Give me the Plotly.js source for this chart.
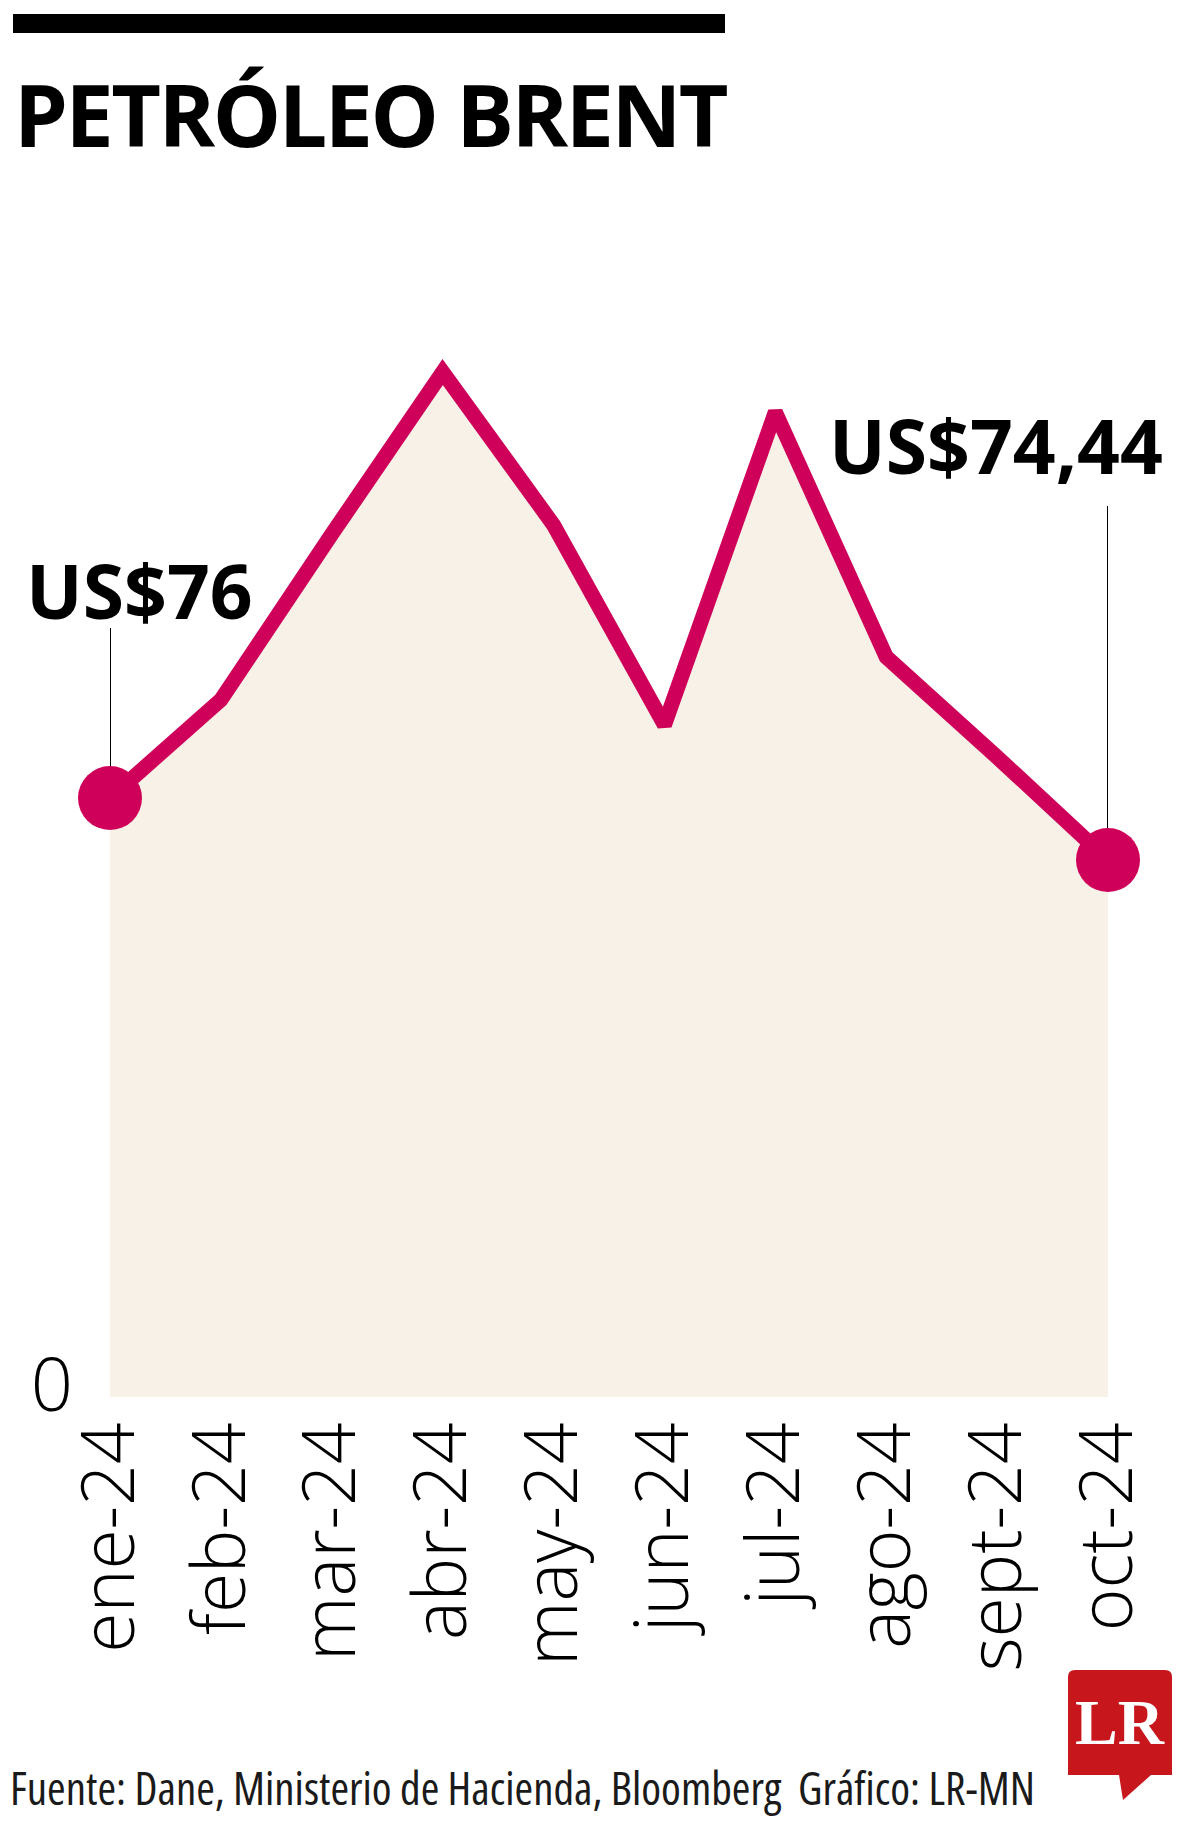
<!DOCTYPE html>
<html>
<head>
<meta charset="utf-8">
<script src="https://cdn.plot.ly/plotly-3.0.1.min.js"></script>
<style>
  html, body { margin: 0; padding: 0; background: #ffffff; }
  #chart { width: 1200px; height: 1828px; }
  #chart .gtitle { letter-spacing: -2.5px; }
  #chart .annotation[data-index="2"] .annotation-text { font-stretch: 75%; }
</style>
</head>
<body>
<div id="chart"></div>
<script>
// ---- DATA ----
const months = ['ene-24', 'feb-24', 'mar-24', 'abr-24', 'may-24', 'jun-24', 'jul-24', 'ago-24', 'sept-24', 'oct-24'];
const brent = [76, 78.47, 82.64, 86.72, 82.87, 77.84, 85.71, 79.55, 77.03, 74.44];
const yTickVals = [60.93];
const yTickText = ['0'];
const firstLabel = 'US$76';
const lastLabel = 'US$74,44';
const titleText = 'PETRÓLEO BRENT';
const sourceText = 'Fuente: Dane, Ministerio de Hacienda, Bloomberg  Gráfico: LR-MN';
const logoText = 'LR';

// ---- LAYOUT GEOMETRY ----
const W = 1200, H = 1828;
const mL = 110, mR = 92, mT = 42, mB = 431;
const plotW = W - mL - mR, plotH = H - mT - mB;
const px = x => (x - mL) / plotW;
const py = y => (H - mB - y) / plotH;

const lineColor = '#cf0059';
const fillColor = '#f8f1e7';
const last = months.length - 1;

const trace = {
  type: 'scatter',
  mode: 'lines+markers',
  x: months,
  y: brent,
  fill: 'tozeroy',
  fillcolor: fillColor,
  opacity: 1,
  line: { color: lineColor, width: 15 },
  marker: {
    color: lineColor,
    opacity: 1,
    size: months.map((m, i) => (i === 0 || i === last) ? 64 : 0),
    line: { width: 0 }
  },
  cliponaxis: false,
  hoverinfo: 'skip'
};

const logoPath = (() => {
  const r = 7;
  const x0 = 1068, x1 = 1172, y0 = 1670, y1 = 1775;
  const P = (x, y) => px(x) + ',' + py(y);
  return 'M' + P(x0 + r, y0) + ' L' + P(x1 - r, y0) + ' Q' + P(x1, y0) + ' ' + P(x1, y0 + r) +
    ' L' + P(x1, y1) + ' L' + P(1151, y1) + ' L' + P(1123, 1800) + ' L' + P(1119, y1) +
    ' L' + P(x0, y1) + ' L' + P(x0, y0 + r) + ' Q' + P(x0, y0) + ' ' + P(x0 + r, y0) + ' Z';
})();

const layout = {
  width: W,
  height: H,
  margin: { l: mL, r: mR, t: mT, b: mB, pad: 0 },
  paper_bgcolor: '#ffffff',
  plot_bgcolor: 'rgba(0,0,0,0)',
  showlegend: false,
  title: {
    text: titleText,
    font: { family: 'Open Sans', size: 86, weight: 700, color: '#000000' },
    xref: 'container', yref: 'container',
    x: 14 / W, xanchor: 'left',
    y: 1 - 117 / H, yanchor: 'middle'
  },
  xaxis: {
    type: 'category',
    range: [0, last],
    showgrid: false, zeroline: false, showline: false,
    ticks: '',
    tickangle: -90,
    tickfont: { family: 'Open Sans', size: 73, weight: 300, color: '#000000' },
    ticklabelstandoff: 10,
    fixedrange: true
  },
  yaxis: {
    range: [60.927, 95.024],
    showgrid: false, zeroline: false, showline: false,
    ticks: '',
    tickvals: yTickVals,
    ticktext: yTickText,
    tickfont: { family: 'Open Sans', size: 74, weight: 300, color: '#000000' },
    ticklabelshift: -12,
    ticklabelstandoff: 36,
    fixedrange: true
  },
  shapes: [
    { type: 'rect', xref: 'paper', yref: 'paper', x0: px(13), x1: px(725), y0: py(33), y1: py(14),
      fillcolor: '#000000', line: { width: 0 } },
    { type: 'line', xref: 'x', yref: 'y', layer: 'below', ysizemode: 'pixel',
      yanchor: brent[0], x0: 0, x1: 0, y0: 0, y1: 170, line: { color: '#000000', width: 2 } },
    { type: 'line', xref: 'x', yref: 'y', layer: 'below', ysizemode: 'pixel',
      yanchor: brent[last], x0: last, x1: last, y0: 0, y1: 354, line: { color: '#000000', width: 2 } },
    { type: 'path', xref: 'paper', yref: 'paper', path: logoPath,
      fillcolor: '#c8161d', line: { width: 0 } }
  ],
  annotations: [
    { xref: 'x', yref: 'y', x: months[0], y: brent[0], text: firstLabel, showarrow: false,
      xanchor: 'left', yanchor: 'middle', xshift: -86, yshift: 208,
      font: { family: 'Open Sans', size: 75, weight: 700, color: '#000000' } },
    { xref: 'x', yref: 'y', x: months[last], y: brent[last], text: lastLabel, showarrow: false,
      xanchor: 'right', yanchor: 'middle', xshift: 57, yshift: 415,
      font: { family: 'Open Sans', size: 75, weight: 700, color: '#000000' } },
    { xref: 'paper', yref: 'paper', x: px(522), y: py(1788), text: sourceText, showarrow: false,
      xanchor: 'center', yanchor: 'middle',
      font: { family: 'Open Sans', size: 45, weight: 400, color: '#1a1a1a' } },
    { xref: 'paper', yref: 'paper', x: px(1120), y: py(1722), text: logoText, showarrow: false,
      xanchor: 'center', yanchor: 'middle',
      font: { family: 'Liberation Serif', size: 64, weight: 700, color: '#ffffff' } }
  ]
};

Plotly.newPlot('chart', [trace], layout, { staticPlot: true, displayModeBar: false });
</script>
</body>
</html>
